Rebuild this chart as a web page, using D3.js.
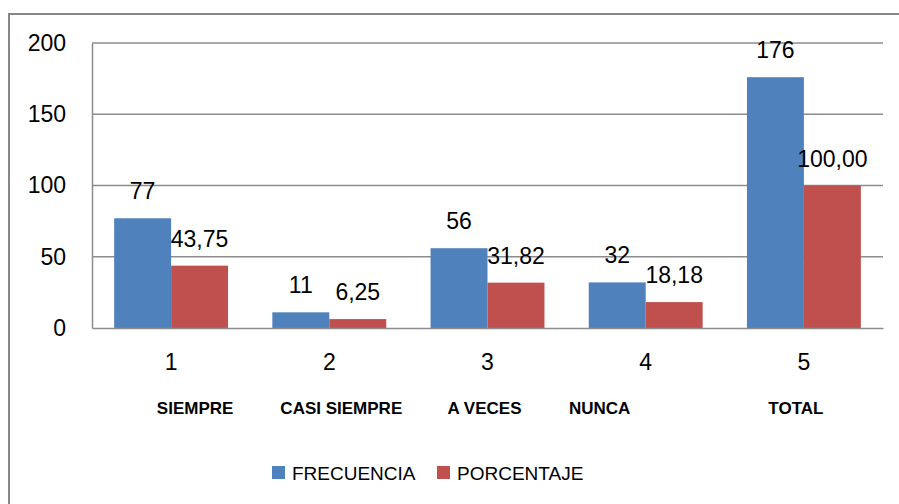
<!DOCTYPE html>
<html>
<head>
<meta charset="utf-8">
<script src="https://cdn.jsdelivr.net/npm/d3@7"></script>
<style>
  body { margin: 0; background: #fff; }
  text { font-family: "Liberation Sans", Arial, sans-serif; fill: #000; }
</style>
</head>
<body>
<div id="chart"></div>
<script>
// data
var categories = ["1", "2", "3", "4", "5"];
var names = ["SIEMPRE", "CASI SIEMPRE", "A VECES", "NUNCA", "TOTAL"];
var frecuencia = [77, 11, 56, 32, 176];
var porcentaje = [43.75, 6.25, 31.82, 18.18, 100.00];
var yTicks = [0, 50, 100, 150, 200];
var seriesNames = ["FRECUENCIA", "PORCENTAJE"];

function init() {
  var w = 899;
  var h = 504;

  var left = 92, right = 883, top = 43, bottom = 328;
  var colors = ["#4F81BD", "#C0504D"];
  // the category names sit in a separate text box, not centred on the bands
  var nameShift = [24, 12, -3, -46, -8];

  var svg = d3.select("#chart").append("svg")
    .attr("width", w)
    .attr("height", h);

  // outer frame (runs past the right and bottom edges)
  svg.append("rect")
    .attr("x", 9).attr("y", 14)
    .attr("width", w + 20).attr("height", h + 20)
    .attr("fill", "none")
    .attr("stroke", "#878787")
    .attr("stroke-width", 2);

  var xScale = d3.scaleBand()
    .domain(categories)
    .range([left, right])
    .paddingInner(0.28)
    .paddingOuter(0.14);

  var xInner = d3.scaleBand()
    .domain([0, 1])
    .range([0, xScale.bandwidth()]);

  var yScale = d3.scaleLinear()
    .domain([0, 200])
    .range([bottom, top]);

  // grid
  svg.append("g").selectAll("line")
    .data(yTicks.slice(1))
    .enter().append("line")
    .attr("x1", left).attr("x2", right)
    .attr("y1", function(d) { return yScale(d); })
    .attr("y2", function(d) { return yScale(d); })
    .attr("stroke", "#8c8c8c")
    .attr("stroke-width", 1.5);

  var yAxis = d3.axisLeft(yScale)
    .tickValues(yTicks)
    .tickSize(0)
    .tickPadding(26);

  var gy = svg.append("g")
    .attr("transform", "translate(" + left + ",0)")
    .call(yAxis);
  gy.select(".domain").attr("stroke", "#8c8c8c").attr("stroke-width", 1.5);
  gy.selectAll("text").attr("font-size", 23).attr("font-family", null);

  var rows = categories.map(function(c, i) {
    return { cat: c, name: names[i], values: [frecuencia[i], porcentaje[i]] };
  });

  var groups = svg.append("g").selectAll("g")
    .data(rows)
    .enter().append("g")
    .attr("transform", function(d) { return "translate(" + xScale(d.cat) + ",0)"; });

  groups.selectAll("rect")
    .data(function(d) { return d.values; })
    .enter().append("rect")
    .attr("x", function(d, i) { return xInner(i); })
    .attr("y", function(d) { return yScale(d); })
    .attr("width", xInner.bandwidth())
    .attr("height", function(d) { return yScale(0) - yScale(d); })
    .attr("fill", function(d, i) { return colors[i]; });

  groups.selectAll("text.val")
    .data(function(d) { return d.values; })
    .enter().append("text")
    .attr("class", "val")
    .attr("x", function(d, i) { return xInner(i) + xInner.bandwidth() / 2; })
    .attr("y", function(d) { return yScale(d) - 19; })
    .attr("text-anchor", "middle")
    .attr("font-size", 23)
    .text(function(d, i) { return i === 0 ? d : d.toFixed(2).replace(".", ","); });

  var xAxis = d3.axisBottom(xScale)
    .tickSize(0)
    .tickPadding(26);

  var gx = svg.append("g")
    .attr("transform", "translate(0," + bottom + ")")
    .call(xAxis);
  gx.select(".domain").attr("stroke", "#8c8c8c").attr("stroke-width", 1.5);
  gx.selectAll("text").attr("font-size", 23).attr("font-family", null);

  svg.append("g").selectAll("text")
    .data(rows)
    .enter().append("text")
    .attr("x", function(d, i) { return xScale(d.cat) + xScale.bandwidth() / 2 + nameShift[i]; })
    .attr("y", 414)
    .attr("text-anchor", "middle")
    .attr("font-size", 17)
    .attr("font-weight", "bold")
    .text(function(d) { return d.name; });

  // legend
  var legendX = [272, 437];
  var legend = svg.append("g").selectAll("g")
    .data(seriesNames)
    .enter().append("g")
    .attr("transform", function(d, i) { return "translate(" + legendX[i] + ",466)"; });

  legend.append("rect")
    .attr("width", 13).attr("height", 13)
    .attr("fill", function(d, i) { return colors[i]; });

  legend.append("text")
    .attr("x", 20).attr("y", 14)
    .attr("font-size", 19)
    .text(function(d) { return d; });
}

window.onload = init;
</script>
</body>
</html>
